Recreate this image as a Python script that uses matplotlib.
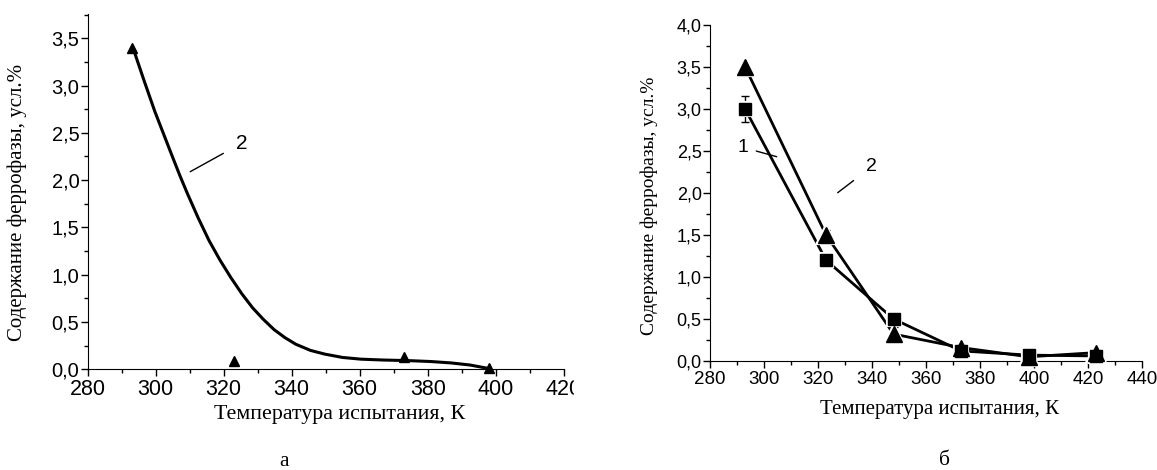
import matplotlib
matplotlib.use('Agg')
import matplotlib.pyplot as plt
from matplotlib.patches import Rectangle
from matplotlib.ticker import MultipleLocator, FuncFormatter

temp_a = [293, 323, 373, 398]
ferro_a = [3.40, 0.09, 0.13, 0.01]
curve_t = [293.3, 296.5, 299.7, 302.4, 305.0, 307.2, 309.3, 312.5, 315.7, 318.9,
           322.1, 325.3, 328.5, 331.6, 334.8, 338.0, 341.2, 345.5, 349.8, 355.0,
           360.4, 367.0, 374.2, 381.0, 387.0, 392.5, 398.0]
curve_v = [3.40, 3.06, 2.73, 2.48, 2.24, 2.04, 1.86, 1.60, 1.36, 1.155,
           0.97, 0.80, 0.65, 0.53, 0.42, 0.335, 0.265, 0.20, 0.16, 0.125,
           0.107, 0.098, 0.092, 0.082, 0.067, 0.045, 0.008]

# panel b
temp_b = [293, 323, 348, 373, 398, 423]
ferro_1 = [3.00, 1.20, 0.50, 0.12, 0.07, 0.06]
err_1 = [0.15, 0.05, 0.03, 0.0, 0.0, 0.0]
ferro_2 = [3.50, 1.50, 0.32, 0.16, 0.05, 0.10]
err_2 = [0.0, 0.06, 0.09, 0.0, 0.0, 0.0]

xlabel = 'Температура испытания, К'
ylabel = 'Содержание феррофазы, усл.%'

serif = ['Liberation Serif', 'DejaVu Serif']
sans = ['Liberation Sans', 'DejaVu Sans']
plt.rcParams['font.family'] = sans


def comma(v, pos):
    return ('%.1f' % v).replace('.', ',')


def style_axes(ax, xsize, ysize):
    ax.spines['top'].set_visible(False)
    ax.spines['right'].set_visible(False)
    ax.xaxis.set_major_locator(MultipleLocator(20))
    ax.xaxis.set_minor_locator(MultipleLocator(10))
    ax.yaxis.set_major_locator(MultipleLocator(0.5))
    ax.yaxis.set_minor_locator(MultipleLocator(0.25))
    ax.yaxis.set_major_formatter(FuncFormatter(comma))
    ax.tick_params(which='major', direction='out', length=5, width=1)
    ax.tick_params(which='minor', direction='out', length=3, width=1)
    ax.tick_params(axis='x', labelsize=xsize, pad=2)
    ax.tick_params(axis='y', labelsize=ysize, pad=1)


fig = plt.figure(figsize=(11.57, 4.70), dpi=100)

# ---- panel a
ax1 = fig.add_axes([87.7 / 1157, 1 - 369.3 / 470, 476 / 1157, 355.3 / 470])
ax1.plot(curve_t, curve_v, color='black', lw=2.2, zorder=2,
         solid_joinstyle='round')
ax1.plot(temp_a, ferro_a, '^', color='black', ms=7, clip_on=False, zorder=3)
ax1.set_xlim(280, 420)
ax1.set_ylim(0, 3.756)
style_axes(ax1, 15.5, 14.5)
ax1.set_xlabel(xlabel, family=serif, fontsize=15.8)
ax1.xaxis.set_label_coords(0.53, -0.1)
ax1.set_ylabel(ylabel, family=serif, fontsize=15)
ax1.yaxis.set_label_coords(-0.1275, 0.469)
ax1.annotate('2', xy=(190.2 / 1157, 1 - 171.7 / 470), xycoords='figure fraction',
             xytext=(241.6 / 1157, 1 - 143.3 / 470), textcoords='figure fraction',
             ha='center', va='center', fontsize=15,
             arrowprops=dict(arrowstyle='-', lw=1, color='black',
                             shrinkA=8, shrinkB=0))
fig.text(284 / 1157, 1 - 461.7 / 470, 'а', family=serif, fontsize=15.5,
         ha='center', va='center')

# ---- panel b
ax2 = fig.add_axes([710 / 1157, 1 - 361 / 470, 432 / 1157, 336 / 470])
ax2.plot(temp_b, ferro_1, '-', color='black', lw=2, zorder=2)
ax2.plot(temp_b, ferro_2, '-', color='black', lw=2, zorder=2)
ax2.errorbar(temp_b, ferro_1, yerr=err_1, fmt='none', ecolor='black',
             elinewidth=1, capsize=3, zorder=3)
ax2.errorbar(temp_b, ferro_2, yerr=err_2, fmt='none', ecolor='black',
             elinewidth=1, capsize=3, zorder=3)
# white halos give the gaps between the lines and the markers
ax2.plot(temp_b, ferro_1, 's', color='black', ms=8, mec='white', mew=3,
         zorder=4, clip_on=False)
ax2.plot(temp_b, ferro_2, '^', color='black', ms=11, mec='white', mew=3,
         zorder=4, clip_on=False)
ax2.plot(temp_b, ferro_1, 's', color='black', ms=8, zorder=5, clip_on=False)
ax2.plot(temp_b, ferro_2, '^', color='black', ms=11, zorder=5, clip_on=False)
ax2.set_xlim(280, 440)
ax2.set_ylim(0, 4.0)
style_axes(ax2, 13.5, 13)
ax2.set_xlabel(xlabel, family=serif, fontsize=15)
ax2.xaxis.set_label_coords(0.532, -0.115)
ax2.set_ylabel(ylabel, family=serif, fontsize=14)
ax2.yaxis.set_label_coords(-0.12, 0.463)
ax2.annotate('1', xy=(776.7 / 1157, 1 - 156.7 / 470), xycoords='figure fraction',
             xytext=(742.7 / 1157, 1 - 147.3 / 470), textcoords='figure fraction',
             ha='center', va='center', fontsize=14,
             arrowprops=dict(arrowstyle='-', lw=1, color='black',
                             shrinkA=4, shrinkB=0))
ax2.annotate('2', xy=(837.7 / 1157, 1 - 192.7 / 470), xycoords='figure fraction',
             xytext=(871.7 / 1157, 1 - 166.7 / 470), textcoords='figure fraction',
             ha='center', va='center', fontsize=14,
             arrowprops=dict(arrowstyle='-', lw=1, color='black',
                             shrinkA=9, shrinkB=0))
fig.text(944.7 / 1157, 1 - 460.8 / 470, 'б', family=serif, fontsize=15.5,
         ha='center', va='center')

# left panel is cut off at its right edge in the original
fig.patches.append(Rectangle((574 / 1157, 0), 40 / 1157, 1 - 368 / 470 - 0.002,
                             transform=fig.transFigure, color='white', zorder=10))

fig.savefig('out.png', dpi=100)
